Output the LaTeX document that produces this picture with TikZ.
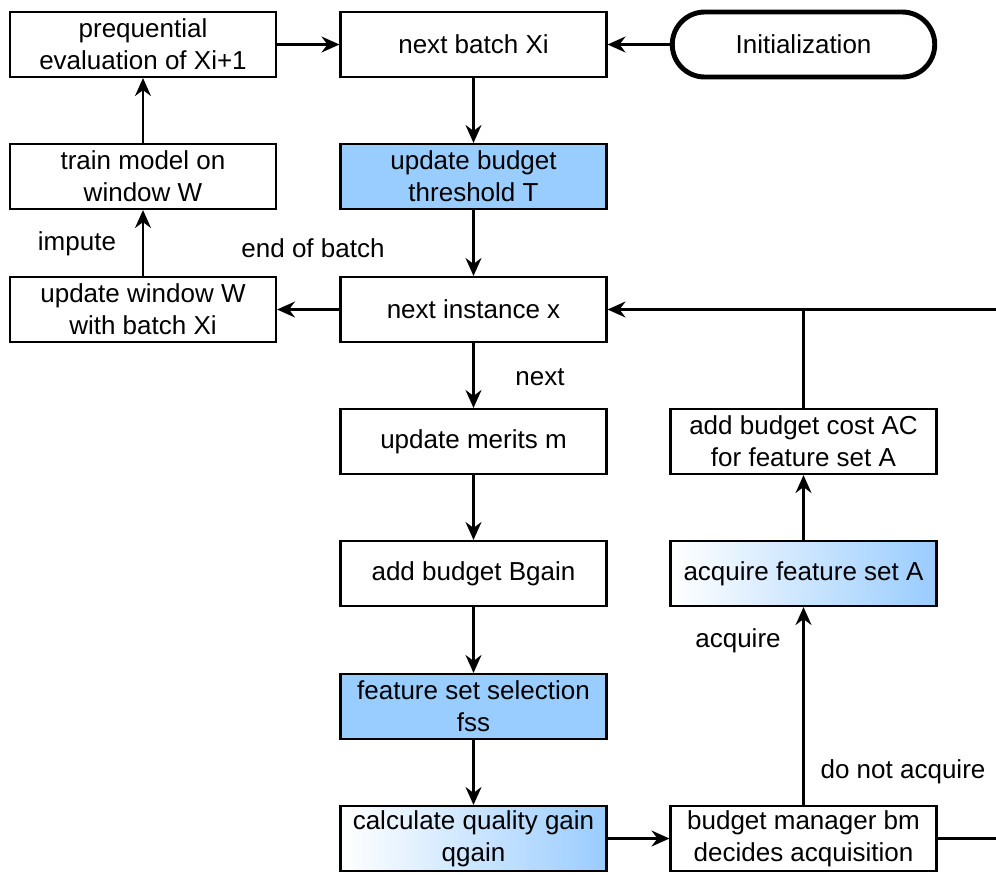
\documentclass[tikz,border=0pt]{standalone}
\usepackage{fontspec}
\setmainfont{Liberation Sans}
\usetikzlibrary{arrows.meta,positioning,shapes.misc}
\definecolor{sky}{RGB}{153,204,255}
\definecolor{ink}{RGB}{0,0,0}
\tikzset{
  >={Stealth[length=3.6mm,width=3.2mm,inset=1.2mm]},
  box/.style={draw=ink,line width=1.2pt,fill=#1,minimum width=53.2mm,minimum height=13mm,
    inner sep=1pt,align=center,font=\fontsize{14.8}{18.4}\selectfont},
  box/.default=white,
  shade box/.style={box,left color=white,right color=sky},
  start box/.style={box,rounded rectangle,line width=2.8pt},
  flow/.style={->,line width=1.2pt,draw=ink},
  plain/.style={line width=1.2pt,draw=ink},
  tag/.style={font=\fontsize{14.8}{18}\selectfont,inner sep=0pt},
}
\begin{document}
\begin{tikzpicture}
    \useasboundingbox (0,0) rectangle (19.92,-17.48);
    % left column
    \node[box] (preq) at (2.86,-0.89) {prequential\\evaluation of Xi+1};
    \node[box] (train) at (2.86,-3.53) {train model on\\window W};
    \node[box] (window) at (2.86,-6.19) {update window W\\with batch Xi};
    % middle column
    \node[box] (batch) at (9.47,-0.89) {next batch Xi};
    \node[box=sky] (thresh) at (9.47,-3.53) {update budget\\threshold T};
    \node[box] (inst) at (9.47,-6.19) {next instance x};
    \node[box] (merits) at (9.47,-8.83) {update merits m};
    \node[box] (gain) at (9.47,-11.47) {add budget Bgain};
    \node[box=sky] (fss) at (9.47,-14.13) {feature set selection\\fss};
    \node[shade box] (qgain) at (9.47,-16.77) {calculate quality gain\\qgain};
    % right column
    \node[start box] (init) at (16.07,-0.89) {Initialization};
    \node[box] (cost) at (16.07,-8.83) {add budget cost AC\\for feature set A};
    \node[shade box] (acq) at (16.07,-11.47) {acquire feature set A};
    \node[box] (bm) at (16.07,-16.77) {budget manager bm\\decides acquisition};
    \coordinate (edge) at (20.1,-6.19);
    % connectors
    \draw[flow] (init) -- (batch);
    \draw[flow] (preq) -- (batch);
    \draw[flow] (batch) -- (thresh);
    \draw[flow] (thresh) -- (inst);
    \draw[flow] (inst) -- (window);
    \draw[flow] (window) -- (train);
    \draw[flow] (train) -- (preq);
    \draw[flow] (inst) -- (merits);
    \draw[flow] (merits) -- (gain);
    \draw[flow] (gain) -- (fss);
    \draw[flow] (fss) -- (qgain);
    \draw[flow] (qgain) -- (bm);
    \draw[flow] (bm) -- (acq);
    \draw[flow] (acq) -- (cost);
    \draw[plain] (cost.north) -- (cost.north |- edge);
    \draw[flow] (bm.east) -- (bm.east -| edge) -- (edge) -- (inst.east);
    % labels
    \node[tag] (l-impute) at (1.54,-4.88) {impute};
    \node[tag] (l-end) at (6.26,-4.96) {end of batch};
    \node[tag] (l-next) at (10.8,-7.54) {next};
    \node[tag] (l-acq) at (14.76,-12.82) {acquire};
    \node[tag] (l-not) at (18.06,-15.44) {do not acquire};
\end{tikzpicture}
\end{document}
